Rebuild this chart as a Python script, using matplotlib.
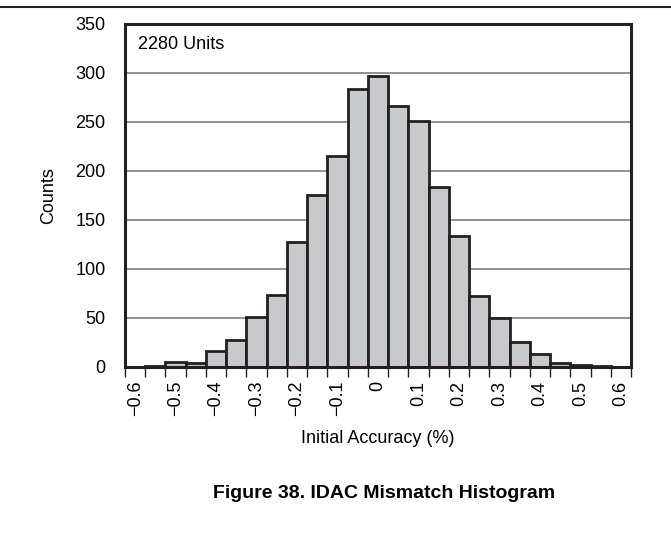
import matplotlib
matplotlib.use("Agg")
import matplotlib.pyplot as plt
from matplotlib.lines import Line2D
from matplotlib.ticker import FixedLocator

plt.rcParams['font.family'] = ['Liberation Sans', 'DejaVu Sans']

# histogram bins (centre of each 0.05 % wide bin) and unit counts
bin_centers = [-0.60, -0.55, -0.50, -0.45, -0.40, -0.35, -0.30, -0.25, -0.20,
               -0.15, -0.10, -0.05, 0.00, 0.05, 0.10, 0.15, 0.20, 0.25,
               0.30, 0.35, 0.40, 0.45, 0.50, 0.55, 0.60]
counts = [0, 1, 5, 4, 16, 27, 51, 73, 127,
          175, 215, 283, 297, 266, 251, 183, 133, 72,
          50, 25, 13, 4, 2, 1, 0]
bin_width = 0.05

tick_values = [-0.6, -0.5, -0.4, -0.3, -0.2, -0.1, 0, 0.1, 0.2, 0.3, 0.4, 0.5, 0.6]
tick_labels = ['\u22120.6', '\u22120.5', '\u22120.4', '\u22120.3', '\u22120.2', '\u22120.1',
               '0', '0.1', '0.2', '0.3', '0.4', '0.5', '0.6']
y_ticks = [0, 50, 100, 150, 200, 250, 300, 350]

dark = '#231f20'
fs = 13

fig = plt.figure(figsize=(6.71, 5.35), dpi=100)
ax = fig.add_axes([0.1863, 0.3146, 0.7541, 0.6411])

ax.bar(bin_centers, counts, width=bin_width, color='#c8c9cb',
       edgecolor=dark, linewidth=2, zorder=3)

ax.set_xlim(bin_centers[0] - bin_width / 2, bin_centers[-1] + bin_width / 2)
ax.set_ylim(0, 350)

# labels sit under bin centres, tick marks at the bin edges
edges = [c - bin_width / 2 for c in bin_centers] + [bin_centers[-1] + bin_width / 2]
ax.set_xticks(tick_values)
ax.set_xticklabels(tick_labels, rotation=90, fontsize=fs)
ax.xaxis.set_minor_locator(FixedLocator(edges))
ax.tick_params(axis='x', which='major', length=0, pad=10)
ax.tick_params(axis='x', which='minor', length=7, width=1, color=dark, direction='out')

ax.set_yticks(y_ticks)
ax.tick_params(axis='y', length=0, pad=14, labelsize=fs)

ax.grid(axis='y', color='#7f7f7f', linewidth=1.2, zorder=0)
for s in ax.spines.values():
    s.set_linewidth(2.2)
    s.set_color(dark)
    s.set_zorder(4)

ax.set_xlabel('Initial Accuracy (%)', fontsize=fs, labelpad=10)
ax.set_ylabel('Counts', fontsize=fs, labelpad=13)
ax.text(0.025, 0.94, '2280 Units', transform=ax.transAxes, fontsize=fs,
        ha='left', va='center')

fig.add_artist(Line2D([0, 1], [0.9875, 0.9875], color=dark, linewidth=1.5))
fig.text(0.572, 0.0785, 'Figure 38. IDAC Mismatch Histogram', fontsize=14,
         fontweight='bold', ha='center', va='center')

fig.savefig('out.png', dpi=100)
